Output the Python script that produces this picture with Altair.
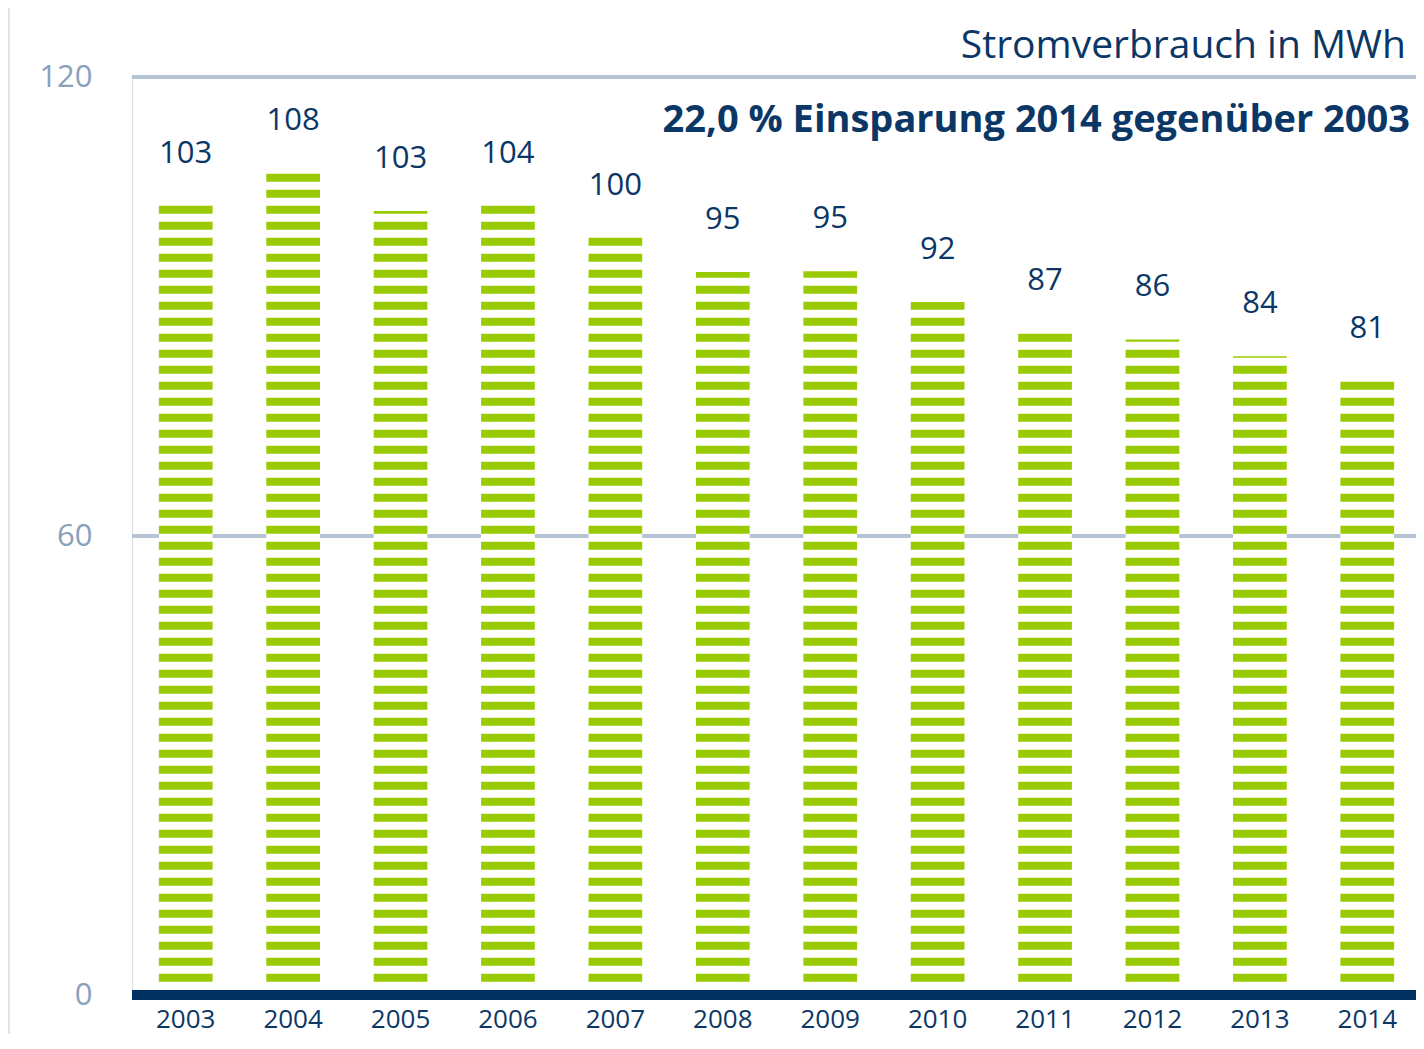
import altair as alt
import pandas as pd

# ---------------- data ----------------
years = ["2003", "2004", "2005", "2006", "2007", "2008",
         "2009", "2010", "2011", "2012", "2013", "2014"]
bar_values = [103.2, 107.4, 102.5, 103.2, 99.0, 94.5,
              94.6, 90.6, 86.5, 85.7, 83.5, 80.2]
bar_labels = ["103", "108", "103", "104", "100", "95",
              "95", "92", "87", "86", "84", "81"]
y_ticks = [0, 60, 120]
grid_values = [60, 120]
title_text = "Stromverbrauch in MWh"
subtitle_text = "22,0 % Einsparung 2014 gegenüber 2003"

# ---------------- style ----------------
NAVY = "#0b3766"
BASE = "#00305f"
GREEN = "#99cc00"
GRID = "#b5c3d3"
TICK = "#8aa1bb"
FONT = "Open Sans"

PLOT_W = 1284          # visible plot width (svg stops at the page edge)
BAND_RANGE = 1289      # width over which the year bands are laid out
PLOT_H = 918
Y_MAX = 120
UNIT = Y_MAX / PLOT_H          # data units per pixel
STRIPE_OFF, STRIPE_H, STRIPE_PITCH = 13.3, 8.0, 16.0   # pixels

bars = pd.DataFrame({"year": years, "value": bar_values, "label": bar_labels})

rows = []
for yr, v in zip(years, bar_values):
    k = 0
    while True:
        lo = (STRIPE_OFF + k * STRIPE_PITCH) * UNIT
        if lo >= v:
            break
        hi = min(lo + STRIPE_H * UNIT, v)
        rows.append({"year": yr, "lo": lo, "hi": hi})
        k += 1
stripes = pd.DataFrame(rows)

xscale = alt.Scale(domain=years, paddingInner=0.5, paddingOuter=0.25,
                   range=[0, BAND_RANGE])
yscale = alt.Scale(domain=[0, Y_MAX], nice=False, zero=True)

x_axis = alt.Axis(title=None, labelAngle=0, ticks=False, tickSize=0, domain=False,
                  labelFontSize=26, labelColor=NAVY, labelFont=FONT,
                  labelPadding=32, labelBaseline="alphabetic")
y_axis = alt.Axis(title=None, values=y_ticks, grid=False, ticks=False, tickSize=0,
                  domain=False, labelFontSize=31, labelColor=TICK, labelFont=FONT,
                  labelPadding=40, labelBaseline="middle")

grid = alt.Chart(pd.DataFrame({"g": grid_values})).mark_rule(
    color=GRID, strokeWidth=4
).encode(y=alt.Y("g:Q", scale=yscale, axis=y_axis))

white = alt.Chart(bars).mark_bar(color="white").encode(
    x=alt.X("year:N", scale=xscale, axis=x_axis),
    y=alt.Y("value:Q", scale=yscale),
)

stripe_layer = alt.Chart(stripes).mark_bar(color=GREEN).encode(
    x=alt.X("year:N", scale=xscale),
    y=alt.Y("lo:Q", scale=yscale),
    y2="hi:Q",
)

baseline = alt.Chart(pd.DataFrame({"z": [0]})).mark_rule(
    color=BASE, strokeWidth=10
).encode(y=alt.Y("z:Q", scale=yscale))

labels = alt.Chart(bars).mark_text(
    font=FONT, fontSize=31, color=NAVY, baseline="alphabetic", dy=-43
).encode(
    x=alt.X("year:N", scale=xscale),
    y=alt.Y("value:Q", scale=yscale),
    text="label:N",
)

title = alt.Chart(pd.DataFrame({"t": [title_text]})).mark_text(
    font=FONT, fontSize=39, color=NAVY, align="right", baseline="alphabetic"
).encode(x=alt.value(1274), y=alt.value(-19), text="t:N")

subtitle = alt.Chart(pd.DataFrame({"t": [subtitle_text]})).mark_text(
    font=FONT, fontSize=38, fontWeight="bold", color=NAVY, align="right",
    baseline="alphabetic"
).encode(x=alt.value(1278), y=alt.value(55), text="t:N")

strip = alt.Chart(pd.DataFrame({"s": [0]})).mark_rect(color="#e2e2e2").encode(
    x=alt.value(-124), x2=alt.value(-122), y=alt.value(-69), y2=alt.value(PLOT_H + 60)
)

chart = alt.layer(grid, white, stripe_layer, baseline, labels, title, subtitle, strip).properties(
    width=PLOT_W, height=PLOT_H,
    autosize=alt.AutoSizeParams(type="none"),
    padding={"left": 124, "top": 69, "right": 0, "bottom": 39},
).configure_view(stroke=None).configure(background="white")

chart.save("out.html", embed_options={"renderer": "svg", "actions": False})
